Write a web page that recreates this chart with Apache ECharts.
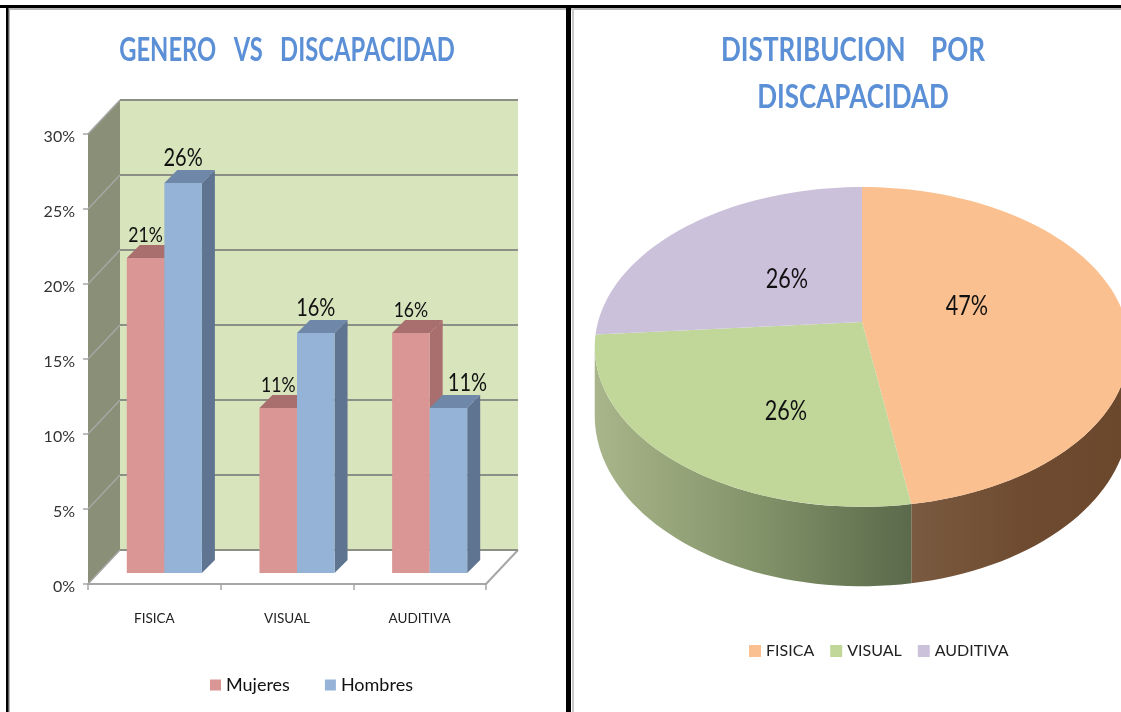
<!DOCTYPE html>
<html>
<head>
<meta charset="UTF-8">
<title>Genero vs discapacidad</title>
<script src="https://cdn.jsdelivr.net/npm/echarts@6/dist/echarts.min.js"></script>
<style>
html, body { margin: 0; padding: 0; background: #fff; }
#chart { width: 1121px; height: 712px; }
</style>
</head>
<body>
<div id="chart"></div>
<script>
var categories = ['FISICA', 'VISUAL', 'AUDITIVA'];
var mujeres = [21, 11, 16];
var hombres = [26, 16, 11];
var pieNames = ['FISICA', 'VISUAL', 'AUDITIVA'];
var pieValues = [47, 26, 26];
var yTicks = [0, 5, 10, 15, 20, 25, 30];

var FONT = 'Lato, "Open Sans", sans-serif';

// caja 3d de las barras
var wallDx = 32, wallDy = -34;
var barDx = 10, barDy = -11, barDepth = 13, barFrac = 0.283;

// perspectiva del pastel
var pieCx = 862, pieCy = 322, pieRx = 264, pieRy = 156, pieK = 0.156, pieH = 67;
var pieTop = ['#fac090', '#c1d79a', '#ccc1da'];
var pieWall = [
	['#7a5a40', '#6f4c31', '#6b472c'],
	['#a9b58b', '#84946a', '#5a6a4b'],
	null
];
var pieLabelAt = [[967, 306], [786, 411], [787, 279]];

function piePoint(deg, rho, drop) {
	var a = deg * Math.PI / 180;
	var u = Math.sin(a) * rho, v = -Math.cos(a) * rho;
	var w = 1 - pieK * v;
	return [pieCx + pieRx * u / w, pieCy + pieRy * v / w + (drop ? pieH / w : 0)];
}

function arcPoints(a0, a1, drop) {
	var pts = [], n = Math.max(2, Math.ceil(Math.abs(a1 - a0) / 2));
	for (var i = 0; i <= n; i++) {
		pts.push(piePoint(a0 + (a1 - a0) * i / n, 1, drop));
	}
	return pts;
}

function pieSeries(idx) {
	var total = 0, before = 0;
	for (var i = 0; i < pieValues.length; i++) {
		total += pieValues[i];
		if (i < idx) before += pieValues[i];
	}
	var a0 = before / total * 360, a1 = (before + pieValues[idx]) / total * 360;
	return {
		name: pieNames[idx],
		type: 'custom',
		coordinateSystem: 'none',
		silent: true,
		itemStyle: { color: pieTop[idx] },
		data: [[pieValues[idx]]],
		renderItem: function () {
			var children = [];
			// solo se ve la pared entre 99 y 261 grados
			var w0 = Math.max(a0, 99), w1 = Math.min(a1, 261);
			if (pieWall[idx] && w1 > w0) {
				var wall = arcPoints(w0, w1, false).concat(arcPoints(w1, w0, true));
				children.push({
					type: 'polygon',
					shape: { points: wall },
					style: {
						fill: new echarts.graphic.LinearGradient(0, 0, 1, 0, [
							{ offset: 0, color: pieWall[idx][0] },
							{ offset: 0.5, color: pieWall[idx][1] },
							{ offset: 1, color: pieWall[idx][2] }
						])
					}
				});
			}
			children.push({
				type: 'polygon',
				shape: { points: [[pieCx, pieCy]].concat(arcPoints(a0, a1, false)) },
				style: { fill: pieTop[idx] }
			});
			children.push({
				type: 'text',
				x: pieLabelAt[idx][0],
				y: pieLabelAt[idx][1],
				scaleX: 0.8,
				style: {
					text: pieValues[idx] + '%',
					fill: '#111',
					font: '27px ' + FONT,
					align: 'center',
					verticalAlign: 'middle'
				}
			});
			return { type: 'group', children: children };
		}
	};
}

function wallItem(params, api) {
	var v = yTicks[params.dataIndex];
	var p0 = api.coord([0, v]);
	var rect = params.coordSys;
	var left = rect.x, right = rect.x + rect.width;
	var children = [];
	if (params.dataIndex === 0) {
		var base = api.coord([0, 0])[1], topY = api.coord([0, 30])[1];
		children.push({
			type: 'polygon',
			shape: { points: [[left + wallDx, topY + wallDy], [right + wallDx, topY + wallDy], [right + wallDx, base + wallDy], [left + wallDx, base + wallDy]] },
			style: { fill: '#d8e4bc' }
		});
		children.push({
			type: 'polygon',
			shape: { points: [[left, topY], [left + wallDx, topY + wallDy], [left + wallDx, base + wallDy], [left, base]] },
			style: { fill: '#8a9078' }
		});
		children.push({
			type: 'line',
			shape: { x1: right, y1: base, x2: right + wallDx, y2: base + wallDy },
			style: { stroke: '#a6a6a6', lineWidth: 2 }
		});
	}
	children.push({
		type: 'line',
		shape: { x1: left, y1: p0[1], x2: left + wallDx, y2: p0[1] + wallDy },
		style: { stroke: '#a6a6a6', lineWidth: 1.5 }
	});
	children.push({
		type: 'line',
		shape: { x1: left + wallDx, y1: p0[1] + wallDy, x2: right + wallDx, y2: p0[1] + wallDy },
		style: { stroke: '#8b8f86', lineWidth: 2 }
	});
	return { type: 'group', children: children };
}

function barSeries(name, values, side, cFront, cTop, cSide) {
	var data = [];
	for (var i = 0; i < values.length; i++) data.push([i, values[i]]);
	return {
		name: name,
		type: 'custom',
		silent: true,
		itemStyle: { color: cFront },
		encode: { x: 0, y: 1 },
		data: data,
		renderItem: function (params, api) {
			var i = api.value(0), top = api.coord([i, api.value(1)]), bot = api.coord([i, 0]);
			var w = api.size([1, 0])[0] * barFrac;
			var x0 = top[0] + barDx + (side < 0 ? -w : 0), x1 = x0 + w;
			var y0 = top[1] + barDy, y1 = bot[1] + barDy;
			var d = barDepth;
			var labelX = (x0 + x1) / 2 + (name === 'Hombres' && i === 2 ? 19 : 0);
			return {
				type: 'group',
				children: [
					{ type: 'polygon', shape: { points: [[x1, y0], [x1 + d, y0 - d], [x1 + d, y1 - d], [x1, y1]] }, style: { fill: cSide } },
					{ type: 'polygon', shape: { points: [[x0, y0], [x0 + d, y0 - d], [x1 + d, y0 - d], [x1, y0]] }, style: { fill: cTop } },
					{ type: 'rect', shape: { x: x0, y: y0, width: w, height: y1 - y0 }, style: { fill: cFront } },
					{
						type: 'text', x: labelX, y: y0 - (name === 'Hombres' ? 25 : 23), z2: 10, scaleX: 0.8,
						style: {
							text: api.value(1) + '%', fill: '#111',
							font: (name === 'Hombres' ? '25px ' : '22px ') + FONT,
							align: 'center', verticalAlign: 'middle'
						}
					}
				]
			};
		}
	};
}

var chart = echarts.init(document.getElementById('chart'));

var option = {
	animation: false,
	backgroundColor: '#fff',
	legend: [
		{
			data: ['Mujeres', 'Hombres'], left: 205, top: 671, icon: 'rect',
			itemWidth: 11, itemHeight: 11, itemGap: 35, selectedMode: false,
			textStyle: { fontFamily: FONT, fontSize: 18, color: '#111' }
		},
		{
			data: pieNames, left: 744, top: 638, icon: 'rect',
			itemWidth: 12, itemHeight: 12, itemGap: 16, selectedMode: false,
			textStyle: { fontFamily: FONT, fontSize: 16, color: '#222' }
		}
	],
	grid: { left: 88, top: 134, width: 398, height: 450 },
	xAxis: {
		type: 'category',
		data: categories,
		axisLine: { lineStyle: { color: '#a6a6a6', width: 2 } },
		axisTick: { show: true, length: 6, alignWithLabel: false, lineStyle: { color: '#a6a6a6', width: 1.5 } },
		axisLabel: { margin: 28, color: '#222', fontFamily: FONT, fontSize: 13.5 }
	},
	yAxis: {
		type: 'value',
		min: 0, max: 30, interval: 5,
		splitLine: { show: false },
		axisLine: { show: false },
		axisTick: { show: true, length: 5, lineStyle: { color: '#a6a6a6', width: 1.5 } },
		axisLabel: {
			formatter: '{a|{value}%}', margin: 13,
			rich: { a: { padding: [6, 0, 0, 0], color: '#333', fontFamily: FONT, fontSize: 16 } }
		}
	},
	graphic: [
		{ type: 'rect', z: 100, shape: { x: 8, y: 8, width: 1113, height: 2 }, style: { fill: '#b4b4b4' } },
		{ type: 'rect', z: 100, shape: { x: 8, y: 8, width: 2, height: 704 }, style: { fill: '#b4b4b4' } },
		{ type: 'rect', z: 100, shape: { x: 572, y: 8, width: 2, height: 704 }, style: { fill: '#c8c8c8' } },
		{ type: 'rect', z: 101, shape: { x: 0, y: 5, width: 1121, height: 3 }, style: { fill: '#000' } },
		{ type: 'rect', z: 101, shape: { x: 6, y: 5, width: 2.5, height: 707 }, style: { fill: '#000' } },
		{ type: 'rect', z: 101, shape: { x: 566, y: 5, width: 5, height: 707 }, style: { fill: '#000' } },
		{
			type: 'text', z: 100, x: 287, y: 50, scaleX: 0.72,
			style: { text: 'GENERO   VS   DISCAPACIDAD', fill: '#5b8fd6', font: 'bold 33px ' + FONT, align: 'center', verticalAlign: 'middle' }
		},
		{
			type: 'text', z: 100, x: 853, y: 50, scaleX: 0.79,
			style: { text: 'DISTRIBUCION    POR', fill: '#5b8fd6', font: 'bold 33px ' + FONT, align: 'center', verticalAlign: 'middle' }
		},
		{
			type: 'text', z: 100, x: 853, y: 97, scaleX: 0.79,
			style: { text: 'DISCAPACIDAD', fill: '#5b8fd6', font: 'bold 33px ' + FONT, align: 'center', verticalAlign: 'middle' }
		}
	],
	series: [
		{
			name: 'pared',
			type: 'custom',
			silent: true,
			z: 1,
			encode: { y: 0 },
			data: yTicks.map(function (t) { return [t]; }),
			renderItem: wallItem
		},
		barSeries('Mujeres', mujeres, -1, '#d99694', '#a86f6e', '#a86f6e'),
		barSeries('Hombres', hombres, 1, '#95b3d7', '#6f87a8', '#5f7490'),
		pieSeries(0),
		pieSeries(1),
		pieSeries(2)
	]
};
chart.setOption(option);
</script>
</body>
</html>
